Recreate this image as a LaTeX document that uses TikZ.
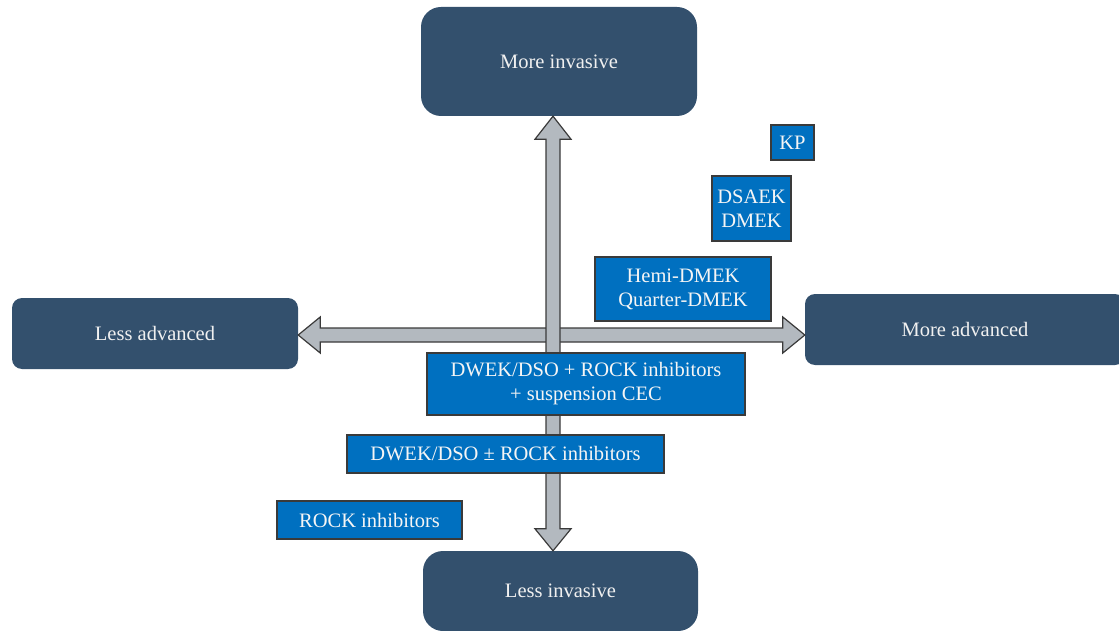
\documentclass[tikz,border=0pt]{standalone}
\usepackage{fontspec}
\setmainfont{Liberation Serif}
\usepackage{tikz}
\usetikzlibrary{calc}

\definecolor{navy}{HTML}{33506D}
\definecolor{boxblue}{HTML}{0070C0}
\definecolor{arrowgray}{HTML}{B3B9BF}
\definecolor{edgegray}{HTML}{3A3A3A}

\begin{document}
\begin{tikzpicture}[
    x=1pt, y=-1pt,
    dark/.style={fill=navy, text=white!94!black, rounded corners=20, font=\fontsize{20.5}{24}\selectfont},
    darkside/.style={dark, rounded corners=10},
    treat/.style={fill=boxblue, draw=edgegray, line width=1.2, text=white!96!black, align=center, inner sep=0, font=\fontsize{20.5}{24}\selectfont},
    fatarrow/.style={fill=arrowgray, draw=edgegray, line width=1.2, line join=miter}
]
\useasboundingbox (0,0) rectangle (1119,631);

% Axis end boxes
\node[dark, minimum width=276, minimum height=109] (moreinv) at (559,61.5) {More invasive};
\node[dark, minimum width=275, minimum height=80] (lessinv) at (560.5,591) {Less invasive};
\node[darkside, minimum width=286, minimum height=71] (lessadv) at (155,333.5) {Less advanced};
\node[darkside, minimum width=320, minimum height=71] (moreadv) at (965,329.5) {More advanced};

% Where the two axes meet
\coordinate (cross) at (553,335);

% Horizontal axis: less / more advanced
\draw[fatarrow] (lessadv.east|-cross) -- ++(22,-18) -- ++(0,11)
    -- ($(moreadv.west|-cross)+(-22,-7)$) -- ++(0,-11) -- (moreadv.west|-cross)
    -- ++(-22,18) -- ++(0,-11) -- ($(lessadv.east|-cross)+(22,7)$) -- ++(0,11) -- cycle;

% Vertical axis: more / less invasive
\draw[fatarrow] (moreinv.south-|cross) -- ++(18,23) -- ++(-11,0)
    -- ($(lessinv.north-|cross)+(7,-22)$) -- ++(11,0) -- (lessinv.north-|cross)
    -- ++(-18,-22) -- ++(11,0) -- ($(moreinv.south-|cross)+(-7,23)$) -- ++(-11,0) -- cycle;

% Treatment boxes
\node[treat, minimum width=43, minimum height=35] (kp) at (792.5,142.5) {KP};
\node[treat, minimum width=79, minimum height=65] (dsaek) at (751.5,208.5) {DSAEK\\DMEK};
\node[treat, minimum width=176, minimum height=64] (hemi) at (683,289) {Hemi-DMEK\\Quarter-DMEK};
\node[treat, minimum width=318, minimum height=62] (dwekcec) at (586,384) {DWEK/DSO + ROCK inhibitors\\+ suspension CEC};
\node[treat, minimum width=317, minimum height=38] (dwek) at (505.5,454) {DWEK/DSO ± ROCK inhibitors};
\node[treat, minimum width=185, minimum height=38] (rock) at (369.5,520) {ROCK inhibitors};

\end{tikzpicture}
\end{document}
